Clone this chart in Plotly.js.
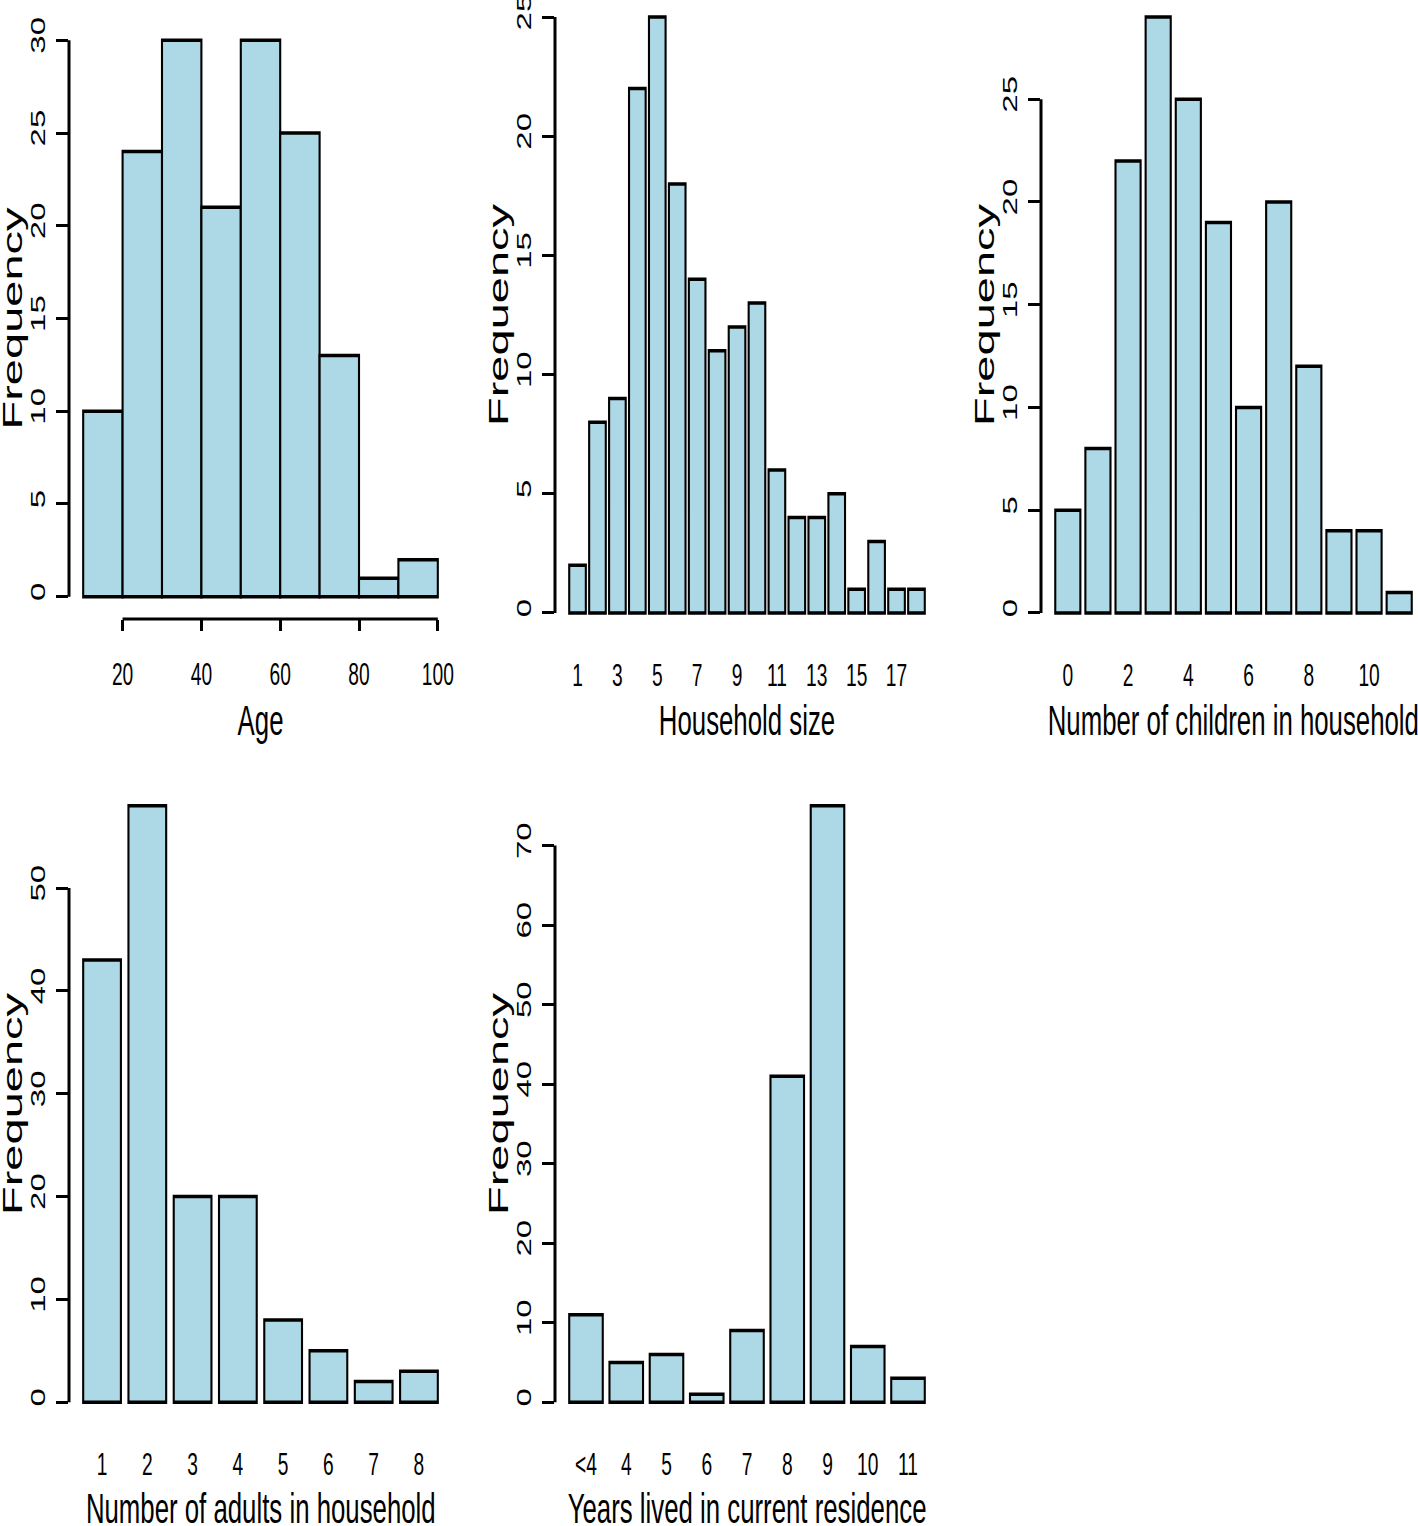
<!DOCTYPE html>
<html><head><meta charset="utf-8">
<script src="https://cdn.plot.ly/plotly-3.0.1.min.js"></script>
<style>
html,body{margin:0;padding:0;overflow:hidden;background:#fff;width:1418px;height:1526px;}
#wrap{position:absolute;left:0;top:-10px;transform:scaleX(0.6);transform-origin:0 0;}
</style></head><body><div id="wrap"><div id="chart"></div></div>
<script>
// ---------- data ----------
const ageBinEdges = [10,20,30,40,50,60,70,80,90,100];
const ageCounts   = [10,24,30,21,30,25,13,1,2];
const ageTicks    = [20,40,60,80,100];
const ageFreqTicks = [0,5,10,15,20,25,30];

const householdSize   = ['1','2','3','4','5','6','7','8','9','10','11','12','13','14','15','16','17','18'];
const householdCounts = [2,8,9,22,25,18,14,11,12,13,6,4,4,5,1,3,1,1];
const householdTickLabels = ['1','3','5','7','9','11','13','15','17'];
const householdFreqTicks = [0,5,10,15,20,25];

const childrenNum    = ['0','1','2','3','4','5','6','7','8','9','10','11'];
const childrenCounts = [5,8,22,29,25,19,10,20,12,4,4,1];
const childrenTickLabels = ['0','2','4','6','8','10'];
const childrenFreqTicks = [0,5,10,15,20,25];

const adultsNum    = ['1','2','3','4','5','6','7','8'];
const adultsCounts = [43,58,20,20,8,5,2,3];
const adultsFreqTicks = [0,10,20,30,40,50];

const yearsLived  = ['<4','4','5','6','7','8','9','10','11'];
const yearsCounts = [11,5,6,1,9,41,75,7,3];
const yearsFreqTicks = [0,10,20,30,40,50,60,70];

const xTitles = ['Age','Household size','Number of children in household','Number of adults in household','Years lived in current residence'];
const yTitle = 'Frequency';

// ---------- geometry (pixel layout of the final image) ----------
const K = 0.6, WP = 2400, HP = 1540, OFF = 10;
const fx = x => x / (WP * K);
const fy = y => 1 - (y + OFF) / HP;
const panels = [
  {x:[69,452],   y:[18,619]},
  {x:[555,939],  y:[-6.8,636.8]},
  {x:[1041,1426],y:[-6.8,636.8]},
  {x:[69,452],   y:[782,1426]},
  {x:[555,939],  y:[782,1426]}
];
const FONT = 'Liberation Sans, Arial, Helvetica, sans-serif';
const FILL = '#add8e6';
const rExt = (lo, hi) => { const d = (hi - lo) * 0.04; return [lo - d, hi + d]; };
const catRange = n => { const r = rExt(0.2, 1.2 * n); return [(r[0] - 0.7) / 1.2, (r[1] - 0.7) / 1.2]; };
const maxOf = a => Math.max.apply(null, a);

// ---------- traces ----------
const ageMids = ageCounts.map((_, i) => (ageBinEdges[i] + ageBinEdges[i + 1]) / 2);
const ageWidths = ageCounts.map((_, i) => ageBinEdges[i + 1] - ageBinEdges[i]);
const barLine = {color:'#000', width:3.5};
const traces = [
  {type:'bar', x:ageMids, y:ageCounts, width:ageWidths, xaxis:'x', yaxis:'y', marker:{color:FILL, line:barLine}},
  {type:'bar', x:householdSize, y:householdCounts, xaxis:'x2', yaxis:'y2', marker:{color:FILL, line:barLine}},
  {type:'bar', x:childrenNum, y:childrenCounts, xaxis:'x3', yaxis:'y3', marker:{color:FILL, line:barLine}},
  {type:'bar', x:adultsNum, y:adultsCounts, xaxis:'x4', yaxis:'y4', marker:{color:FILL, line:barLine}},
  {type:'bar', x:yearsLived, y:yearsCounts, xaxis:'x5', yaxis:'y5', marker:{color:FILL, line:barLine}}
];

const yTicksAll = [ageFreqTicks, householdFreqTicks, childrenFreqTicks, adultsFreqTicks, yearsFreqTicks];
const yMax = [maxOf(ageCounts), maxOf(householdCounts), maxOf(childrenCounts), maxOf(adultsCounts), maxOf(yearsCounts)];
const xCats = [null, householdSize, childrenNum, adultsNum, yearsLived];
const xTickSets = [ageTicks, householdTickLabels, childrenTickLabels, adultsNum, yearsLived];

const layout = {
  width: WP, height: HP, margin:{l:0,r:0,t:0,b:0},
  paper_bgcolor:'#fff', plot_bgcolor:'#fff', showlegend:false,
  bargap: 1/6,
  font:{family:FONT, color:'#000'},
  shapes:[], annotations:[]
};

panels.forEach((p, i) => {
  const n = i === 0 ? '' : String(i + 1);
  const xa = {
    domain:[fx(p.x[0]), fx(p.x[1])], anchor:'y' + n,
    showgrid:false, zeroline:false, showline:false,
    tickfont:{family:FONT, size:32, color:'#000'}, tickangle:0,
    fixedrange:true
  };
  if (i === 0) {
    Object.assign(xa, {type:'linear', range:rExt(ageBinEdges[0], ageBinEdges[ageBinEdges.length - 1]),
      tickmode:'array', tickvals:ageTicks, ticktext:ageTicks.map(String),
      ticks:'outside', ticklen:11, tickwidth:5, tickcolor:'#000', ticklabelstandoff:16});
  } else {
    Object.assign(xa, {type:'category', categoryorder:'array', categoryarray:xCats[i],
      range:catRange(xCats[i].length), tickmode:'array', tickvals:xTickSets[i], ticktext:xTickSets[i],
      ticks:'', ticklabelstandoff:16});
  }
  const yt = yTicksAll[i];
  const ya = {
    domain:[fy(p.y[1]), fy(p.y[0])], anchor:'x' + n,
    range: rExt(0, yMax[i]),
    showgrid:false, zeroline:false, showline:false,
    tickmode:'array', tickvals:yt, ticktext:yt.map(String),
    ticks:'outside', ticklen:20, tickwidth:3, tickcolor:'#000',
    tickangle:-90, tickfont:{family:FONT, size:33, color:'#000'}, ticklabelstandoff:5,
    fixedrange:true
  };
  layout['xaxis' + n] = xa;
  layout['yaxis' + n] = ya;

  // R-style axis line spanning first to last tick
  layout.shapes.push({type:'line', xref:'x' + n + ' domain', yref:'y' + n,
    x0:0, x1:0, y0:yt[0], y1:yt[yt.length - 1], line:{color:'#000', width:5}});
  if (i === 0) {
    layout.shapes.push({type:'line', xref:'x', yref:'y domain',
      x0:ageTicks[0], x1:ageTicks[ageTicks.length - 1], y0:0, y1:0, line:{color:'#000', width:3}});
  }

  // axis titles
  layout.annotations.push({text:yTitle, textangle:-90, showarrow:false,
    xref:'paper', yref:'paper', x:fx(p.x[0] - 57), y:fy((p.y[0] + p.y[1]) / 2),
    xanchor:'center', yanchor:'middle', font:{family:FONT, size:47, color:'#000'}});
  const titleY = i < 3 ? 720 : 1508;
  layout.annotations.push({text:xTitles[i], showarrow:false,
    xref:'paper', yref:'paper', x:fx((p.x[0] + p.x[1]) / 2), y:fy(titleY),
    xanchor:'center', yanchor:'middle', font:{family:FONT, size:43, color:'#000'}});
});

Plotly.newPlot('chart', traces, layout, {displayModeBar:false, staticPlot:true});
</script></body></html>
